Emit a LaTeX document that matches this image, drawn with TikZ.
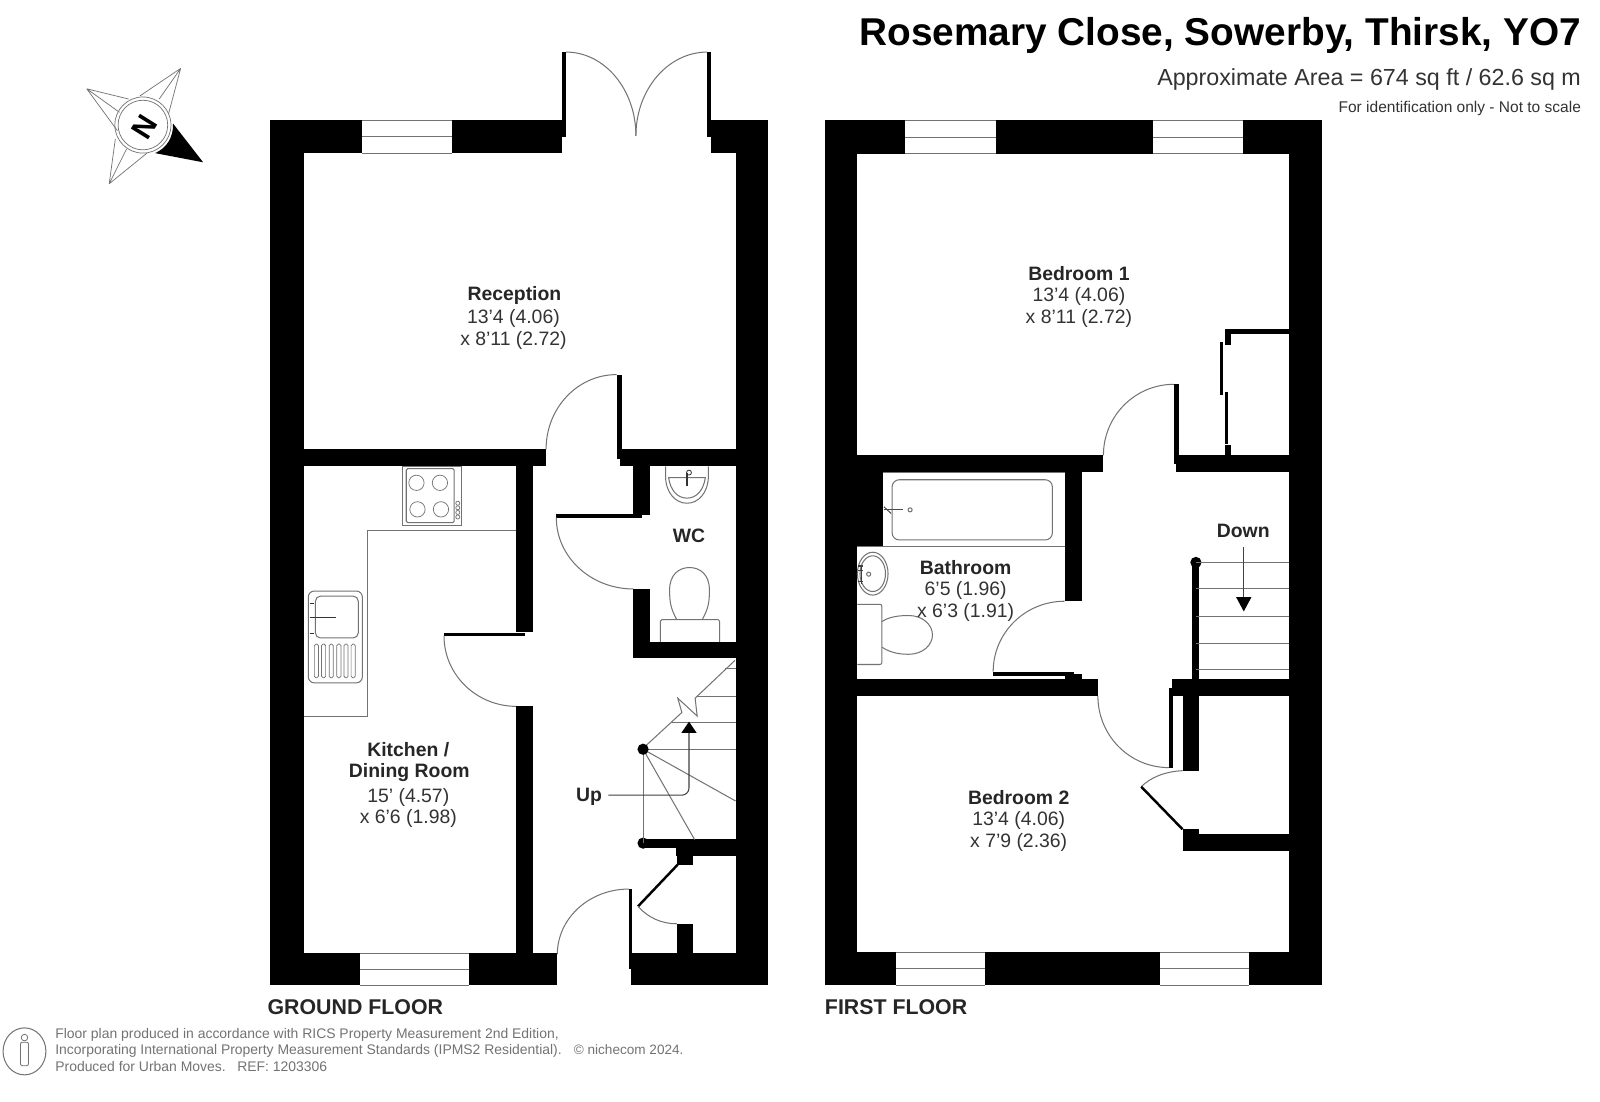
\documentclass[tikz,border=0pt]{standalone}
\usepackage{fontspec}
\setmainfont{Liberation Sans}
\usetikzlibrary{calc}
\definecolor{thinc}{gray}{0.45}
\definecolor{dimc}{gray}{0.2}
\definecolor{footc}{gray}{0.45}
\tikzset{
  thin line/.style={draw=thinc,line width=1pt},
  fine line/.style={draw=thinc,line width=0.7pt},
  doorarc/.style={draw=thinc,line width=1pt},
  room/.style={align=center,inner sep=0pt,text=dimc,font=\fontsize{19}{21.3}\selectfont},
  tag/.style={inner sep=0pt,font=\fontsize{19}{21}\selectfont\bfseries,text=black!85}
}
\newcommand{\wl}[2]{\fill[black] (#1) rectangle (#2);}
\newcommand{\qarc}[3]{\draw[doorarc] (#1) .. controls ($(#1)+0.5523*(#3)-0.5523*(#2)$) and ($(#3)+0.5523*(#1)-0.5523*(#2)$) .. (#3);}
\newcommand{\win}[4]{\fill[white] (#1,#3) rectangle (#2,#4);
  \draw[fine line] (#1,#3) -- (#2,#3) (#1,#4) -- (#2,#4);
  \draw[thin line] (#1,{(#3+#4)/2}) -- (#2,{(#3+#4)/2});}
\begin{document}
\begin{tikzpicture}[x=1pt,y=-1pt]
\useasboundingbox (0,0) rectangle (1567.5,1078.7);
\fill[white] (0,0) rectangle (1567.5,1078.7);

% ---------- GROUND FLOOR walls
\wl{265,118}{298,965}
\wl{721,118}{752,965}
\wl{265,118}{551,150}
\fill[black] (551,51) rectangle (554.5,134);
\fill[black] (693,51) rectangle (697,134);
\wl{697,118}{752,150}
\wl{265,934}{546,965}
\wl{618,934}{752,965}
\fill[black] (616,871) rectangle (619,949);
\win{355}{443}{118}{150}
\win{353}{459}{934}{965}
\qarc{554.5,51}{554.5,133}{623,133}
\qarc{693,51}{693,133}{623,133}
\qarc{616,871}{616,935}{546,935}
% reception / kitchen wall
\wl{298,440}{535,457}
\wl{604,440}{721,450}
\wl{607,450}{721,457}
\fill[black] (604,367) rectangle (609,440);
\qarc{604,367}{604,440}{535,440}
% hall / kitchen wall
\wl{506,457}{522,619}
\fill[black] (435,620) rectangle (514,623);
\qarc{435,623}{506,623}{506,692}
\wl{506,692}{522,934}
% WC walls
\wl{620.5,457}{637,505}
\fill[black] (545,504) rectangle (629,507);
\qarc{545,507}{620.5,507}{620.5,577}
\wl{620.5,577}{637,645}
\wl{620.5,629}{721,645}
% stair foot walls
\wl{630,822}{721,831}
\wl{662,822}{721,839}
\wl{663,839}{678.5,847}
\fill[black] (630,826) circle (5.5);
\draw[black,line width=2.4pt] (664,847) -- (625,888);
\draw[doorarc] (625,888) .. controls (635,899) and (648,905) .. (663,905);
\wl{663,905}{678.5,935}

% kitchen fittings
\draw[thin line] (506,520) -- (360,520) -- (360,702) -- (298,702);
\draw[thin line] (394,457) rectangle (452,515);
\draw[thin line,rounded corners=1.5pt] (398,459) rectangle (445,512);
\foreach \x/\y in {408/473,431/473,409/499,432/499} \draw[fine line] (\x,\y) circle (7.5);
\foreach \y in {493,497.5,502,506.5} \draw[fine line] (448.5,\y) circle (2);
\draw[thin line,rounded corners=6pt] (302,579) rectangle (355,669);
\draw[thin line,rounded corners=5pt] (309,584) rectangle (351,625);
\foreach \x in {310,317,324.5,332,339,346} \draw[fine line,rounded corners=1.5pt] (\x-2,631) rectangle (\x+2,664);
\foreach \y in {591,605,621} \draw[black!80,line width=1.2pt] (303.5,\y) -- (308,\y);
\draw[black!80,line width=1pt] (305,605) -- (329,605);

% WC fittings
\draw[thin line] (652,457) -- (652,466) .. controls (652,483) and (662,493) .. (673,493) .. controls (684,493) and (694,483) .. (694,466) -- (694,457);
\draw[thin line] (655,468) .. controls (657,481) and (664,488) .. (673,488) .. controls (682,488) and (689,481) .. (691,468) -- cycle;
\draw[black!80,line width=1.3pt] (673,463) -- (673,476);
\draw[black!80,line width=0.8pt] (675,463) circle (2.4);
\draw[thin line] (663,607) .. controls (657,596) and (656,590) .. (656,578) .. controls (656,563) and (665,556) .. (675.5,556) .. controls (686,556) and (695,563) .. (695,578) .. controls (695,590) and (694,596) .. (688,607);
\draw[thin line,rounded corners=1.5pt] (647,629) -- (647,607) -- (705,607) -- (705,629);

% ground stairs
\draw[thin line] (720,647) -- (681,684) -- (683,701.5) -- (664,684) -- (668,698) -- (629,734);
\foreach \a/\b in {710/655,683/682,657.6/708,630/734} \draw[thin line] (\a,\b) -- (721,\b);
\draw[thin line] (630,734) -- (720.6,784.7);
\draw[thin line] (630,734) -- (680.5,822.6);
\draw[thin line] (630,734) -- (630,826);
\fill[black] (630,734) circle (5.5);
\draw[thin line,draw=black!75,rounded corners=7pt] (596,779) -- (675,779) -- (675,716);
\fill[black] (675,707) -- (682.5,718) -- (667.5,718) -- cycle;

% ---------- FIRST FLOOR walls
\wl{808,118}{840,965}
\wl{1263,118}{1295,965}
\wl{808,118}{1295,150.5}
\wl{808,933}{1295,965}
\win{887}{976}{118}{150.5}
\win{1130}{1218}{118}{150.5}
\win{877.6}{965}{933}{965}
\win{1136}{1224}{933}{965}
\wl{840,446}{1081,462.5}
\wl{1150,446}{1263,455}
\wl{1152,455}{1263,462.5}
\fill[black] (1150,376.5) rectangle (1155,446);
\qarc{1150,376.5}{1150,446}{1081,446}
% wardrobe
\wl{1200,322}{1263,327.5}
\wl{1200,322}{1206,338}
\wl{1200,436}{1206,446}
\fill[black] (1195.5,335) rectangle (1198,387);
\fill[black] (1200,384) rectangle (1203.5,435);
% bathroom
\wl{840,462}{865,535}
\draw[thin line] (840,535) -- (1043,535);
\draw[thin line] (865,462.5) -- (1043,462.5);
\draw[thin line,rounded corners=7pt] (874,470) rectangle (1031,529);
\draw[black!70,line width=1pt] (866,499.5) -- (885,499.5);
\draw[black!70,line width=1pt] (866,496.5) -- (873,503);
\draw[thin line] (891.6,499.5) circle (2);
\wl{1043,462}{1060,589}
\fill[black] (973,658) rectangle (1052,662);
\wl{1043.5,660}{1060,666}
\qarc{973,658}{1043,658}{1043,589}
\wl{840,665.5}{1075.6,682}
\qarc{1075.6,682}{1145,682}{1145,752}
\fill[black] (1145,674) rectangle (1149,752);
\wl{1148,665.5}{1263,682}
\wl{1158.5,682}{1175,755}
\fill[black] (1171.6,551) circle (5.5);
\wl{1168,551}{1175,666}
\foreach \y in {551,577,603.5,630,656} \draw[thin line] (1172,\y) -- (1263,\y);
\draw[black!75,line width=1pt] (1218,535.5) -- (1218,588);
\fill[black] (1211,585) -- (1226,585) -- (1218.5,599) -- cycle;
\draw[doorarc] (1158.5,755) .. controls (1140,756) and (1127,762) .. (1118,770.7);
\draw[black,line width=2.4pt] (1118,770.7) -- (1158.5,812.4);
\wl{1158.5,812.4}{1175,817}
\wl{1158.5,816.6}{1263,834}
% basin & toilet
\draw[thin line] (855,562) ellipse [x radius=15,y radius=21];
\draw[thin line] (855,562) ellipse [x radius=12.5,y radius=17.5];
\draw[thin line] (851,562.5) circle (2);
\foreach \y in {554.5,558.5,569.5} \draw[black!75,line width=1pt] (841,\y) -- (845,\y);
\draw[black!75,line width=1pt] (844,554.5) -- (844,572.5);
\draw[thin line,rounded corners=2pt] (840,592) -- (864,592) -- (864,651) -- (840,651);
\draw[thin line] (864,609) .. controls (870,605) and (878,603) .. (890,603) .. controls (904,603) and (913.5,612) .. (913.5,622) .. controls (913.5,632) and (904,641) .. (890,641) .. controls (878,641) and (870,638) .. (864,634);

% ---------- labels
\node[tag] (rec) at (504,289.5) {Reception};
\node[room] (recd) at (503,322.5) {13'4 (4.06)\\x 8'11 (2.72)};
\node[tag] (kit1) at (400,734.5) {Kitchen /};
\node[tag] (kit2) at (401,757) {Dining Room};
\node[room] (kitd) at (400,791.5) {15' (4.57)\\x 6'6 (1.98)};
\node[tag] (wc) at (675,525) {WC};
\node[tag] (up) at (577,781) {Up};
\node[tag] (bed1) at (1057,268) {Bedroom 1};
\node[room] (bed1d) at (1057,301.5) {13'4 (4.06)\\x 8'11 (2.72)};
\node[tag] (bath) at (946,556) {Bathroom};
\node[room] (bathd) at (946,589.5) {6'5 (1.96)\\x 6'3 (1.91)};
\node[tag] (bed2) at (998,781) {Bedroom 2};
\node[room] (bed2d) at (998,814.5) {13'4 (4.06)\\x 7'9 (2.36)};
\node[tag] (down) at (1218,520) {Down};
\node[inner sep=0pt,anchor=west,font=\fontsize{20.9}{24}\selectfont\bfseries,text=black!85] (gf) at (262,987) {GROUND FLOOR};
\node[inner sep=0pt,anchor=west,font=\fontsize{20.9}{24}\selectfont\bfseries,text=black!85] (ff) at (808,987) {FIRST FLOOR};
\node[inner sep=0pt,anchor=east,font=\fontsize{38}{40}\selectfont\bfseries] (title) at (1549,34.5) {Rosemary Close, Sowerby, Thirsk, YO7};
\node[inner sep=0pt,anchor=east,font=\fontsize{22.8}{25}\selectfont,text=dimc] (area) at (1549,78) {Approximate Area = 674 sq ft / 62.6 sq m};
\node[inner sep=0pt,anchor=east,font=\fontsize{15.2}{17}\selectfont,text=dimc] (idn) at (1549,106.5) {For identification only - Not to scale};
\node[inner sep=0pt,anchor=west,align=left,font=\fontsize{13.65}{16.2}\selectfont,text=footc] (foot) at (54,1028.5) {Floor plan produced in accordance with RICS Property Measurement 2nd Edition,\\Incorporating International Property Measurement Standards (IPMS2 Residential).\\Produced for Urban Moves.\ \ \ REF: 1203306};
\node[inner sep=0pt,anchor=west,font=\fontsize{13.3}{16}\selectfont,text=footc] (copy) at (562,1028.5) {© nichecom 2024.};

% footer icon
\draw[draw=footc,line width=1pt] (24,1030) ellipse [x radius=21,y radius=23];
\draw[draw=footc,line width=0.8pt] (24,1016.5) circle (3.2);
\draw[draw=footc,line width=0.8pt,rounded corners=2pt] (20,1021) rectangle (28,1044);

% compass
\draw[fine line] (85,87) -- (126,97) (85,87) -- (115,128) (85,87) -- (117,110);
\draw[fine line] (177,67) -- (137,94) (177,67) -- (165,112) (177,67) -- (156,97);
\draw[fine line] (107,180) -- (113,136) (107,180) -- (144,150) (107,180) -- (124,146);
\fill[black] (199,159) -- (169.5,121) .. controls (170,135) and (163,145) .. (152,150) -- cycle;
\draw[fine line] (140,122.5) circle (27.5);
\draw[fine line] (140,122.5) circle (24.3);
\node[inner sep=0pt,rotate=58,font=\fontsize{29}{30}\selectfont\bfseries] (nmark) at (142,124) {N};
\end{tikzpicture}
\end{document}
